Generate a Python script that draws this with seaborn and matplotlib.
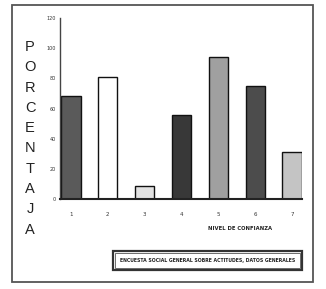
import matplotlib
matplotlib.use("Agg")
import matplotlib.pyplot as plt
import seaborn as sns
import pandas as pd
from matplotlib.patches import Rectangle

categories = ["1", "2", "3", "4", "5", "6", "7"]
values = [68, 81, 9, 56, 94, 75, 31]
bar_colors = ["#5a5a5a", "#ffffff", "#e2e2e2", "#383838", "#a0a0a0", "#4c4c4c", "#c4c4c4"]
y_ticks = [0, 20, 40, 60, 80, 100, 120]
y_label = "PORCENTAJA"
x_label = "NIVEL DE CONFIANZA"
caption = "ENCUESTA SOCIAL GENERAL SOBRE ACTITUDES, DATOS GENERALES"

sns.set_style("white")
plt.rcParams['font.family'] = ['DejaVu Sans']

df = pd.DataFrame({"cat": categories, "val": values})

fig = plt.figure(figsize=(3.26, 2.89), dpi=100)
ax = fig.add_axes([0.184, 0.311, 0.742, 0.627])

sns.barplot(data=df, x="cat", y="val", hue="cat", palette=bar_colors,
            edgecolor="#111111", linewidth=1.0, width=0.52, legend=False, ax=ax)

ax.set_xlim(-0.3, 6.27)
ax.set_ylim(0, 120)
ax.set_yticks(y_ticks)
ax.set_yticklabels([str(t) for t in y_ticks], fontsize=3.5, color="#333333")
ax.set_xticks(range(len(categories)))
ax.set_xticklabels(categories, fontsize=4, color="#333333")
ax.set_xticks([i + 0.5 for i in range(len(categories) - 1)], minor=True)
ax.tick_params(axis="x", which="major", length=0, pad=9)
ax.tick_params(axis="x", which="minor", length=2, width=0.8, color="#444444", direction="out")
ax.tick_params(axis="y", length=2, width=0.8, color="#444444", pad=1, direction="out")
ax.set_xlabel("")
ax.set_ylabel("")
for s in ["top", "right"]:
    ax.spines[s].set_visible(False)
ax.spines["left"].set_color("#444444")
ax.spines["left"].set_linewidth(1.0)
ax.spines["bottom"].set_color("#222222")
ax.spines["bottom"].set_linewidth(1.5)

# vertical stacked y-label
for i, ch in enumerate(y_label):
    fig.text(30 / 326, 1 - (47 + i * 20.3) / 289, ch, ha="center", va="center",
             fontsize=10.5, color="#222222", family=["Liberation Sans", "DejaVu Sans"])

fig.text(240 / 326, 1 - 229 / 289, x_label, ha="center", va="center",
         fontsize=3.8, color="#222222", fontweight="bold")

# caption box (double border)
fig.patches.append(Rectangle((113 / 326, 1 - 270 / 289), 189 / 326, 19 / 289,
                             transform=fig.transFigure, fill=False,
                             edgecolor="#333333", linewidth=1.6))
fig.patches.append(Rectangle((115 / 326, 1 - 268 / 289), 185 / 326, 15 / 289,
                             transform=fig.transFigure, fill=False,
                             edgecolor="#555555", linewidth=0.6))
fig.text(207.5 / 326, 1 - 260.5 / 289, caption, ha="center", va="center",
         fontsize=3.3, color="#222222", fontweight="bold")

# outer frame
fig.patches.append(Rectangle((12 / 326, 1 - 282 / 289), 301 / 326, 277 / 289,
                             transform=fig.transFigure, fill=False,
                             edgecolor="#555555", linewidth=1.3))

fig.savefig("out.png", dpi=100)
